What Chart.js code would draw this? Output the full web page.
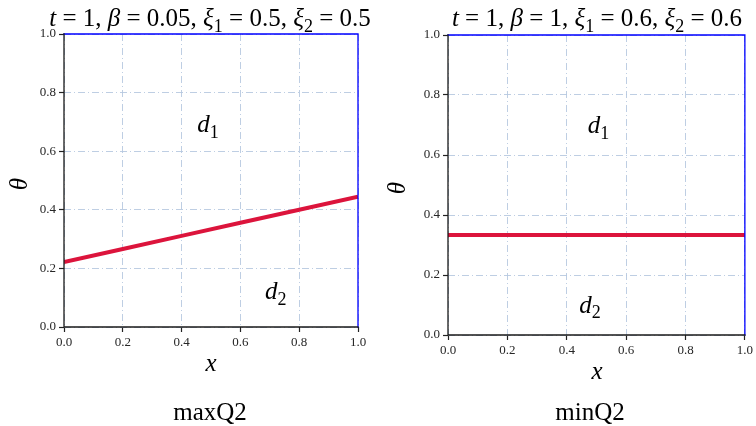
<!DOCTYPE html>
<html><head><meta charset="utf-8">
<script src="https://cdn.jsdelivr.net/npm/chart.js@4/dist/chart.umd.min.js"></script>
<style>
html,body{margin:0;padding:0;background:#fff;}
#wrap{position:relative;width:756px;height:426px;overflow:hidden;}
.panel{position:absolute;top:0;width:378px;height:426px;}
</style></head><body>
<div id="wrap">
<div class="panel" style="left:0"><canvas id="c1" width="378" height="426"></canvas></div>
<div class="panel" style="left:378px"><canvas id="c2" width="378" height="426"></canvas></div>
</div>
<script>
// ---- data ----
const xValues = [0.0, 0.2, 0.4, 0.6, 0.8, 1.0];
const thetaMaxQ2 = [0.222, 0.266, 0.311, 0.356, 0.400, 0.445];
const thetaMinQ2 = [0.333, 0.333, 0.333, 0.333, 0.333, 0.333];
const tickValues = [0.0, 0.2, 0.4, 0.6, 0.8, 1.0];
const panelCaptions = ['maxQ2', 'minQ2'];
const paramT = ['1', '1'];
const paramBeta = ['0.05', '1'];
const paramXi1 = ['0.5', '0.6'];
const paramXi2 = ['0.5', '0.6'];
const regionNames = ['d', 'd'];
const regionSubs = ['1', '2'];
const xAxisLabel = 'x';
const yAxisLabel = 'θ';

const SERIF = "'Liberation Serif','DejaVu Serif',serif";

function drawRich(ctx, segs, cx, baseline, size, align) {
  let total = 0;
  const fonts = segs.map(s => {
    const sz = s.sub ? size * 0.72 : size;
    const f = (s.it ? 'italic ' : '') + sz + 'px ' + SERIF;
    ctx.font = f;
    const w = ctx.measureText(s.t).width;
    total += w;
    return {f, w};
  });
  let x = align === 'left' ? cx : cx - total / 2;
  ctx.textAlign = 'left';
  ctx.textBaseline = 'alphabetic';
  segs.forEach((s, i) => {
    ctx.font = fonts[i].f;
    ctx.fillText(s.t, x, baseline + (s.sub ? size * 0.22 : 0));
    x += fonts[i].w;
  });
}

function titleSegs(i) {
  return [
    {t: 't', it: true}, {t: ' = ' + paramT[i] + ', '},
    {t: 'β', it: true}, {t: ' = ' + paramBeta[i] + ', '},
    {t: 'ξ', it: true}, {t: '1', sub: true}, {t: ' = ' + paramXi1[i] + ', '},
    {t: 'ξ', it: true}, {t: '2', sub: true}, {t: ' = ' + paramXi2[i]}
  ];
}

const decor = {
  id: 'decor',
  afterDraw(chart, args, o) {
    const {ctx, chartArea: a, scales} = chart;
    ctx.save();
    // spines
    ctx.lineCap = 'square';
    ctx.lineWidth = 1.3;
    ctx.strokeStyle = '#0000ff';
    ctx.beginPath();
    ctx.moveTo(a.left, a.top); ctx.lineTo(a.right, a.top); ctx.lineTo(a.right, a.bottom);
    ctx.stroke();
    ctx.strokeStyle = '#1a1a1a';
    ctx.beginPath();
    ctx.moveTo(a.left, a.top); ctx.lineTo(a.left, a.bottom); ctx.lineTo(a.right, a.bottom);
    ctx.stroke();
    ctx.fillStyle = '#000';
    // title
    drawRich(ctx, titleSegs(o.idx), o.titleX, o.titleY, 25);
    // region labels
    o.regions.forEach((r, k) => {
      const px = scales.x.getPixelForValue(r.x);
      const py = scales.y.getPixelForValue(r.y);
      drawRich(ctx, [{t: regionNames[k], it: true}, {t: regionSubs[k], sub: true}], px, py, 25);
    });
    // x label
    drawRich(ctx, [{t: xAxisLabel, it: true}], o.xLabX, o.xLabY, 25);
    // y label rotated
    ctx.save();
    ctx.translate(o.yLabX, o.yLabY);
    ctx.rotate(-Math.PI / 2);
    drawRich(ctx, [{t: yAxisLabel, it: true}], 0, 0, 25);
    ctx.restore();
    // caption
    drawRich(ctx, [{t: panelCaptions[o.idx]}], o.capX, o.capY, 25);
    ctx.restore();
  }
};

function scaleOpts(isX) {
  return {
    type: 'linear', min: 0, max: 1,
    afterBuildTicks: s => { s.ticks = tickValues.map(v => ({value: v})); },
    afterFit: s => { if (isX) s.height = 30; else s.width = 40; },
    ticks: {
      callback: v => Number(v).toFixed(1),
      font: {family: SERIF, size: 13},
      color: '#262626',
      padding: 3,
      autoSkip: false,
      maxRotation: 0
    },
    grid: {
      color: '#b7c8e0', lineWidth: 0.9,
      drawTicks: true, tickLength: 5, tickColor: '#222', tickWidth: 1.2
    },
    border: {display: false, dash: [7, 3, 1, 3]}
  };
}

function makeChart(id, idx, theta, pad, deco) {
  deco.idx = idx;
  return new Chart(document.getElementById(id), {
    type: 'line',
    data: {
      datasets: [{
        data: xValues.map((x, i) => ({x, y: theta[i]})),
        borderColor: '#dc143c', borderWidth: 4, pointRadius: 0,
        tension: 0, fill: false
      }]
    },
    options: {
      responsive: false, animation: false,
      layout: {padding: pad},
      plugins: {legend: {display: false}, tooltip: {enabled: false}, decor: deco},
      scales: {x: scaleOpts(true), y: scaleOpts(false)}
    },
    plugins: [decor]
  });
}

makeChart('c1', 0, thetaMaxQ2, {left: 24, right: 20, top: 34, bottom: 69}, {
  titleX: 210, titleY: 26,
  regions: [{x: 0.49, y: 0.665}, {x: 0.72, y: 0.095}],
  xLabX: 211, xLabY: 371, yLabX: 27, yLabY: 184, capX: 210, capY: 420
});
makeChart('c2', 1, thetaMinQ2, {left: 30, right: 9, top: 35, bottom: 61}, {
  titleX: 219, titleY: 26,
  regions: [{x: 0.507, y: 0.673}, {x: 0.478, y: 0.075}],
  xLabX: 219, xLabY: 379, yLabX: 27, yLabY: 188, capX: 212, capY: 420
});
</script>
</body></html>
